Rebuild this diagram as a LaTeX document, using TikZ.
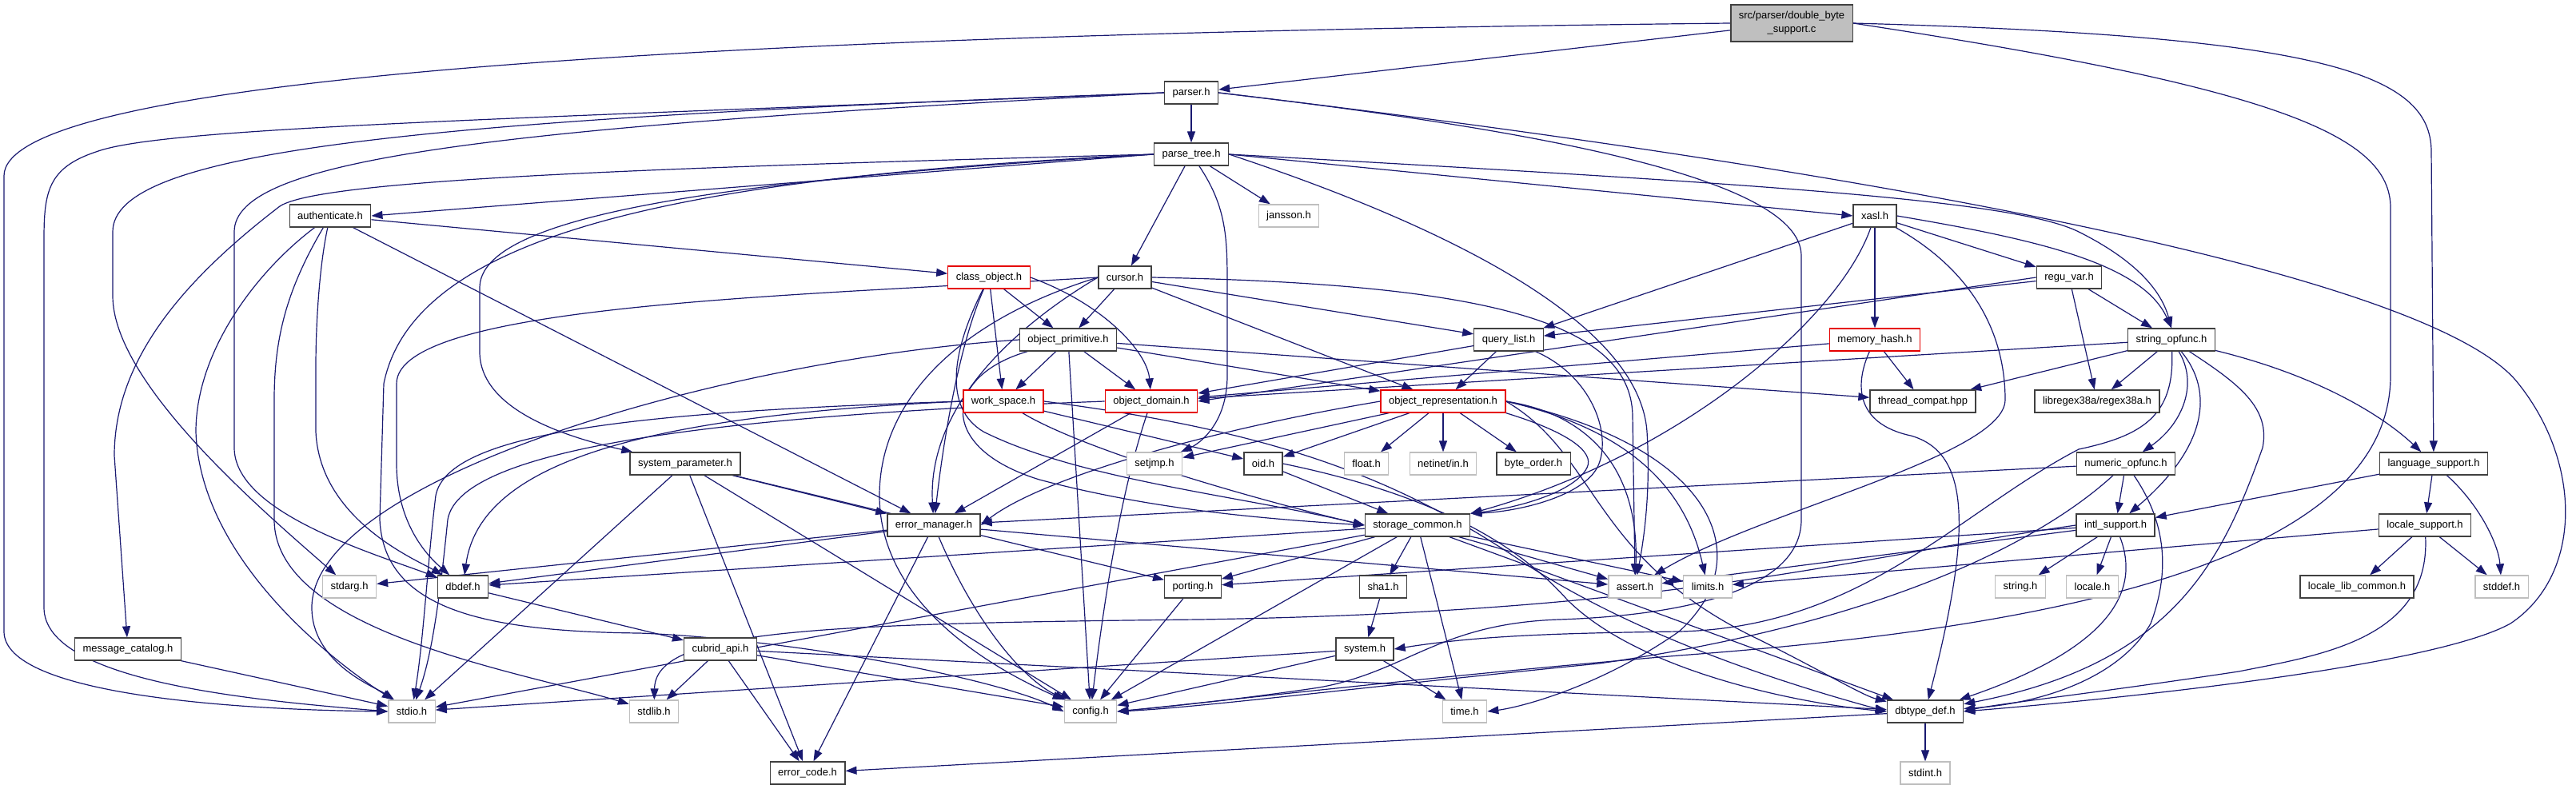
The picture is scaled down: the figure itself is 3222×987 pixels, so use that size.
\documentclass[tikz,border=0pt]{standalone}
\usepackage{fontspec}
\setmainfont{Liberation Sans}
\usetikzlibrary{arrows.meta,backgrounds}
\definecolor{edgeblue}{HTML}{191970}
\begin{document}
\begin{tikzpicture}[x=1pt,y=-1pt,every node/.style={font=\fontsize{13}{16}\selectfont},
  hdr/.style={draw=black!75,fill=white,line width=1.3pt,minimum height=28pt,inner xsep=10pt,inner ysep=2pt},
  syshdr/.style={hdr,draw=black!25},
  redhdr/.style={hdr,draw=red!90!black},
  srcbox/.style={hdr,fill=black!25,align=center,minimum height=46pt,font=\fontsize{13}{17}\selectfont},
  dep/.style={draw=edgeblue,line width=1.2pt,-{Triangle[length=14pt,width=10pt]}}]
\useasboundingbox (0,0) rectangle (3222,987);
\node[srcbox] (src) at (2241,29) {src/parser/double\_byte\\\_support.c};
\node[hdr] (parser) at (1490,116) {parser.h};
\node[hdr] (ptree) at (1490,193) {parse\_tree.h};
\node[hdr] (auth) at (413,270) {authenticate.h};
\node[syshdr] (jansson) at (1612,270) {jansson.h};
\node[hdr] (xasl) at (2345,270) {xasl.h};
\node[redhdr] (clsobj) at (1237,347) {class\_object.h};
\node[hdr] (cursor) at (1407,347) {cursor.h};
\node[hdr] (reguvar) at (2588,347) {regu\_var.h};
\node[hdr] (objprim) at (1336,425) {object\_primitive.h};
\node[hdr] (qlist) at (1887,425) {query\_list.h};
\node[redhdr] (memhash) at (2345,425) {memory\_hash.h};
\node[hdr] (stropf) at (2716,425) {string\_opfunc.h};
\node[redhdr] (wspace) at (1255,502) {work\_space.h};
\node[redhdr] (objdom) at (1440,502) {object\_domain.h};
\node[redhdr] (objrep) at (1805,502) {object\_representation.h};
\node[hdr] (thrcompat) at (2405,502) {thread\_compat.hpp};
\node[hdr] (regex) at (2623,502) {libregex38a/regex38a.h};
\node[hdr] (syspar) at (857,580) {system\_parameter.h};
\node[syshdr] (setjmp) at (1444,580) {setjmp.h};
\node[hdr] (oid) at (1580,580) {oid.h};
\node[syshdr] (floath) at (1709,580) {float.h};
\node[syshdr] (netinet) at (1805,580) {netinet/in.h};
\node[hdr] (byteorder) at (1918,580) {byte\_order.h};
\node[hdr] (numopf) at (2659,580) {numeric\_opfunc.h};
\node[hdr] (langsup) at (3044,580) {language\_support.h};
\node[hdr] (errmgr) at (1168,657) {error\_manager.h};
\node[hdr] (stcommon) at (1773,657) {storage\_common.h};
\node[hdr] (intlsup) at (2646,657) {intl\_support.h};
\node[hdr] (locsup) at (3033,657) {locale\_support.h};
\node[syshdr] (stdarg) at (437,734) {stdarg.h};
\node[hdr] (dbdef) at (579,734) {dbdef.h};
\node[hdr] (porting) at (1492,734) {porting.h};
\node[hdr] (sha) at (1730,734) {sha1.h};
\node[syshdr] (assert) at (2045,734) {assert.h};
\node[syshdr] (limits) at (2136,734) {limits.h};
\node[syshdr] (stringh) at (2527,734) {string.h};
\node[syshdr] (localeh) at (2617,734) {locale.h};
\node[hdr] (loclib) at (2948,734) {locale\_lib\_common.h};
\node[syshdr] (stddef) at (3129,734) {stddef.h};
\node[hdr] (msgcat) at (160,812) {message\_catalog.h};
\node[hdr] (capi) at (901,812) {cubrid\_api.h};
\node[hdr] (systemh) at (1707,812) {system.h};
\node[syshdr] (stdio) at (515,890) {stdio.h};
\node[syshdr] (stdlib) at (818,890) {stdlib.h};
\node[syshdr] (config) at (1364,890) {config.h};
\node[syshdr] (timeh) at (1832,890) {time.h};
\node[hdr] (dbtype) at (2408,890) {dbtype\_def.h};
\node[hdr] (errcode) at (1010,967) {error\_code.h};
\node[syshdr] (stdint) at (2408,967) {stdint.h};
\begin{pgfonlayer}{background}
% source file
\draw[dep] (src) -- (parser);
\draw[dep] (src.west) .. controls (700,45) and (5,110) .. (5,220) -- (5,790) .. controls (5,870) and (300,888) .. (stdio.west);
\draw[dep] (src.east) .. controls (2900,45) and (3041,90) .. (3041,190) -- (langsup);
\draw[dep] (src.east) .. controls (2850,110) and (2990,170) .. (2990,260) -- (2990,470) .. controls (2990,720) and (2500,790) .. (2100,820) .. controls (1800,845) and (1500,880) .. (config.east);
% parser.h
\draw[dep] (parser) -- (ptree);
\draw[dep] (parser.west) .. controls (600,150) and (200,160) .. (120,190) .. controls (60,210) and (55,240) .. (55,300) -- (55,760) .. controls (55,850) and (300,875) .. (stdio.west);
\draw[dep] (parser.west) .. controls (500,150) and (141,190) .. (141,290) -- (141,370) .. controls (141,480) and (330,640) .. (stdarg);
\draw[dep] (parser.west) .. controls (600,160) and (293,200) .. (293,290) -- (293,560) .. controls (293,640) and (460,690) .. (dbdef);
\draw[dep] (parser.east) .. controls (1900,160) and (2253,220) .. (2253,320) -- (2253,650) .. controls (2253,740) and (2100,770) .. (1950,775) .. controls (1800,780) and (1760,840) .. (1650,860) .. controls (1550,875) and (1450,885) .. (config.east);
\draw[dep] (parser.east) .. controls (2400,220) and (3050,350) .. (3150,480) .. controls (3230,580) and (3230,720) .. (3140,780) .. controls (3050,830) and (2700,870) .. (dbtype.east);
% parse_tree.h
\draw[dep] (ptree.west) -- (auth.east);
\draw[dep] (ptree.west) .. controls (800,210) and (400,225) .. (350,258) .. controls (230,350) and (143,450) .. (143,570) -- (msgcat);
\draw[dep] (ptree.west) .. controls (900,225) and (600,270) .. (600,360) -- (600,440) .. controls (600,510) and (700,545) .. (syspar);
\draw[dep] (ptree.west) .. controls (900,220) and (520,280) .. (480,480) -- (475,650) .. controls (480,760) and (600,790) .. (800,792) .. controls (1000,800) and (1250,850) .. (config.west);
\draw[dep] (ptree) -- (cursor);
\draw[dep] (ptree) -- (jansson);
\draw[dep] (ptree) .. controls (1535,260) and (1535,300) .. (1535,360) -- (1535,470) .. controls (1535,530) and (1500,555) .. (setjmp);
\draw[dep] (ptree.east) .. controls (1800,280) and (2050,400) .. (2060,540) .. controls (2065,620) and (2055,680) .. (assert);
\draw[dep] (ptree.east) -- (xasl.west);
\draw[dep] (ptree.east) .. controls (2200,230) and (2520,250) .. (2600,290) .. controls (2680,330) and (2705,370) .. (stropf.north);
% authenticate.h
\draw[dep] (auth) -- (clsobj);
\draw[dep] (auth) -- (errmgr);
\draw[dep] (auth) .. controls (320,340) and (245,440) .. (245,540) .. controls (250,700) and (420,830) .. (stdio);
\draw[dep] (auth) .. controls (360,360) and (343,420) .. (343,500) -- (343,650) .. controls (343,790) and (650,840) .. (stdlib);
\draw[dep] (auth) .. controls (400,330) and (395,400) .. (395,460) -- (395,540) .. controls (400,650) and (520,700) .. (dbdef);
% class_object.h, cursor.h
\draw[dep] (clsobj) -- (objprim);
\draw[dep] (clsobj) -- (wspace);
\draw[dep] (clsobj.east) .. controls (1380,380) and (1435,440) .. (objdom);
\draw[dep] (clsobj) .. controls (1200,430) and (1180,550) .. (errmgr);
\draw[dep] (clsobj) .. controls (1190,440) and (1180,510) .. (1230,540) .. controls (1350,600) and (1550,620) .. (stcommon.west);
\draw[dep] (cursor.west) .. controls (1000,370) and (496,380) .. (496,480) -- (496,580) .. controls (496,660) and (540,700) .. (dbdef);
\draw[dep] (cursor.west) .. controls (1200,400) and (1100,500) .. (1100,620) .. controls (1100,760) and (1250,840) .. (config);
\draw[dep] (cursor.west) .. controls (1250,420) and (1160,520) .. (errmgr);
\draw[dep] (cursor) -- (objprim);
\draw[dep] (cursor.east) .. controls (1850,355) and (2040,400) .. (2042,520) -- (assert.north);
\draw[dep] (cursor) -- (qlist);
\draw[dep] (cursor) -- (objrep);
% object_primitive.h
\draw[dep] (objprim.west) .. controls (900,450) and (390,600) .. (390,760) .. controls (390,830) and (470,860) .. (stdio);
\draw[dep] (objprim) .. controls (1180,470) and (1170,560) .. (1300,600) .. controls (1450,640) and (1600,650) .. (stcommon.west);
\draw[dep] (objprim) -- (wspace);
\draw[dep] (objprim) -- (config);
\draw[dep] (objprim) -- (objdom);
\draw[dep] (objprim) -- (thrcompat);
\draw[dep] (objprim) -- (objrep);
% query_list.h, xasl.h, regu_var.h, memory_hash.h
\draw[dep] (qlist) -- (objdom);
\draw[dep] (qlist) -- (objrep);
\draw[dep] (qlist) .. controls (1990,470) and (2015,540) .. (2000,580) .. controls (1985,620) and (1900,640) .. (stcommon.north east);
\draw[dep] (xasl) -- (qlist);
\draw[dep] (xasl) .. controls (2300,400) and (2100,570) .. (stcommon.north east);
\draw[dep] (xasl) -- (memhash);
\draw[dep] (xasl.east) .. controls (2550,300) and (2680,330) .. (stropf.north);
\draw[dep] (xasl) -- (reguvar);
\draw[dep] (xasl) .. controls (2470,340) and (2508,420) .. (2508,500) .. controls (2508,570) and (2200,640) .. (assert);
\draw[dep] (reguvar) -- (qlist);
\draw[dep] (reguvar.west) -- (objdom.east);
\draw[dep] (reguvar) -- (regex);
\draw[dep] (reguvar) -- (stropf);
\draw[dep] (memhash) -- (objdom);
\draw[dep] (memhash) .. controls (2320,480) and (2320,530) .. (2390,545) .. controls (2460,565) and (2470,650) .. (dbtype);
\draw[dep] (memhash) -- (thrcompat);
% string_opfunc.h
\draw[dep] (stropf) -- (objdom);
\draw[dep] (stropf) -- (thrcompat);
\draw[dep] (stropf) -- (regex);
\draw[dep] (stropf) .. controls (2720,520) and (2680,545) .. (2600,562) .. controls (2450,640) and (2330,785) .. (2100,790) .. controls (1950,792) and (1850,795) .. (systemh.east);
\draw[dep] (stropf) .. controls (2750,480) and (2730,530) .. (numopf);
\draw[dep] (stropf) .. controls (2770,490) and (2760,560) .. (intlsup);
\draw[dep] (stropf) .. controls (2800,480) and (2840,510) .. (2830,560) .. controls (2780,700) and (2720,830) .. (dbtype);
\draw[dep] (stropf) .. controls (2900,470) and (2980,520) .. (langsup);
% numeric_opfunc.h, language_support.h, locale_support.h, intl_support.h
\draw[dep] (numopf) -- (errmgr);
\draw[dep] (numopf) -- (intlsup);
\draw[dep] (numopf) .. controls (2550,680) and (2350,780) .. (2000,830) .. controls (1700,860) and (1500,885) .. (config.east);
\draw[dep] (numopf) .. controls (2700,640) and (2720,700) .. (2690,780) .. controls (2650,850) and (2550,880) .. (dbtype);
\draw[dep] (langsup) -- (intlsup);
\draw[dep] (langsup) -- (locsup);
\draw[dep] (langsup) .. controls (3100,630) and (3125,680) .. (stddef);
\draw[dep] (locsup) -- (limits);
\draw[dep] (locsup) -- (loclib);
\draw[dep] (locsup) -- (stddef);
\draw[dep] (locsup) .. controls (3040,800) and (2900,820) .. (2800,840) .. controls (2600,870) and (2500,880) .. (dbtype.east);
\draw[dep] (intlsup) -- (assert);
\draw[dep] (intlsup) -- (porting);
\draw[dep] (intlsup.west) .. controls (2300,700) and (2100,765) .. (1500,775) .. controls (1000,780) and (820,790) .. (stdlib);
\draw[dep] (intlsup) -- (stringh);
\draw[dep] (intlsup) -- (localeh);
\draw[dep] (intlsup) .. controls (2670,720) and (2670,800) .. (dbtype);
% storage_common.h
\draw[dep] (stcommon) -- (dbdef);
\draw[dep] (stcommon) -- (stdio);
\draw[dep] (stcommon) -- (porting);
\draw[dep] (stcommon) -- (sha);
\draw[dep] (stcommon) -- (timeh);
\draw[dep] (stcommon) -- (dbtype);
\draw[dep] (stcommon) -- (assert);
\draw[dep] (stcommon) -- (limits);
\draw[dep] (stcommon) -- (config);
% error_manager.h, system_parameter.h
\draw[dep] (errmgr) -- (stdarg);
\draw[dep] (errmgr) -- (dbdef);
\draw[dep] (errmgr) -- (errcode);
\draw[dep] (errmgr) .. controls (1220,780) and (1280,850) .. (config);
\draw[dep] (errmgr) -- (assert);
\draw[dep] (syspar) -- (stdio);
\draw[dep] (syspar) -- (errcode);
\draw[dep] (syspar) -- (config);
\draw[dep] (syspar) -- (porting);
\draw[dep] (syspar) -- (errmgr);
% work_space.h, object_domain.h
\draw[dep] (wspace.west) .. controls (800,515) and (560,540) .. (545,620) .. controls (535,700) and (530,800) .. (stdio);
\draw[dep] (wspace.west) .. controls (800,520) and (600,580) .. (dbdef);
\draw[dep] (wspace) -- (oid);
\draw[dep] (wspace) .. controls (1350,560) and (1550,620) .. (stcommon.west);
\draw[dep] (wspace.east) .. controls (1600,540) and (1750,600) .. (1900,700) .. controls (2050,800) and (2250,860) .. (dbtype.west);
\draw[dep] (objdom.west) .. controls (900,520) and (575,560) .. (560,650) .. controls (550,750) and (540,820) .. (stdio);
\draw[dep] (objdom) -- (errmgr);
\draw[dep] (objdom) .. controls (1400,620) and (1380,760) .. (config);
% object_representation.h
\draw[dep] (objrep.west) .. controls (1500,540) and (1300,600) .. (errmgr.east);
\draw[dep] (objrep) -- (setjmp);
\draw[dep] (objrep) -- (oid);
\draw[dep] (objrep) -- (floath);
\draw[dep] (objrep) -- (netinet);
\draw[dep] (objrep) -- (byteorder);
\draw[dep] (objrep.south east) .. controls (1960,540) and (1995,565) .. (1985,585) .. controls (1970,615) and (1900,635) .. (stcommon.north east);
\draw[dep] (objrep.east) .. controls (2000,520) and (2050,600) .. (assert);
\draw[dep] (objrep.east) .. controls (2050,540) and (2110,620) .. (limits);
\draw[dep] (objrep.east) .. controls (2150,560) and (2200,700) .. (2100,790) .. controls (2000,860) and (1900,885) .. (timeh.east);
\draw[dep] (objrep.east) .. controls (2000,570) and (1990,700) .. (2200,800) .. controls (2280,840) and (2330,870) .. (dbtype);
% remaining headers
\draw[dep] (oid) -- (stcommon);
\draw[dep] (oid.east) .. controls (1750,610) and (1880,660) .. (1960,750) .. controls (2050,840) and (2250,880) .. (dbtype.west);
\draw[dep] (sha) -- (systemh);
\draw[dep] (systemh) -- (stdio);
\draw[dep] (systemh) -- (config);
\draw[dep] (systemh) -- (timeh);
\draw[dep] (capi) -- (dbtype);
\draw[dep] (capi) -- (config);
\draw[dep] (capi) -- (stdlib);
\draw[dep] (capi) -- (errcode);
\draw[dep] (dbdef) -- (capi);
\draw[dep] (msgcat) -- (stdio);
\draw[dep] (porting) -- (config);
\draw[dep] (dbtype) -- (errcode);
\draw[dep] (dbtype) -- (stdint);
\end{pgfonlayer}
\end{tikzpicture}
\end{document}
